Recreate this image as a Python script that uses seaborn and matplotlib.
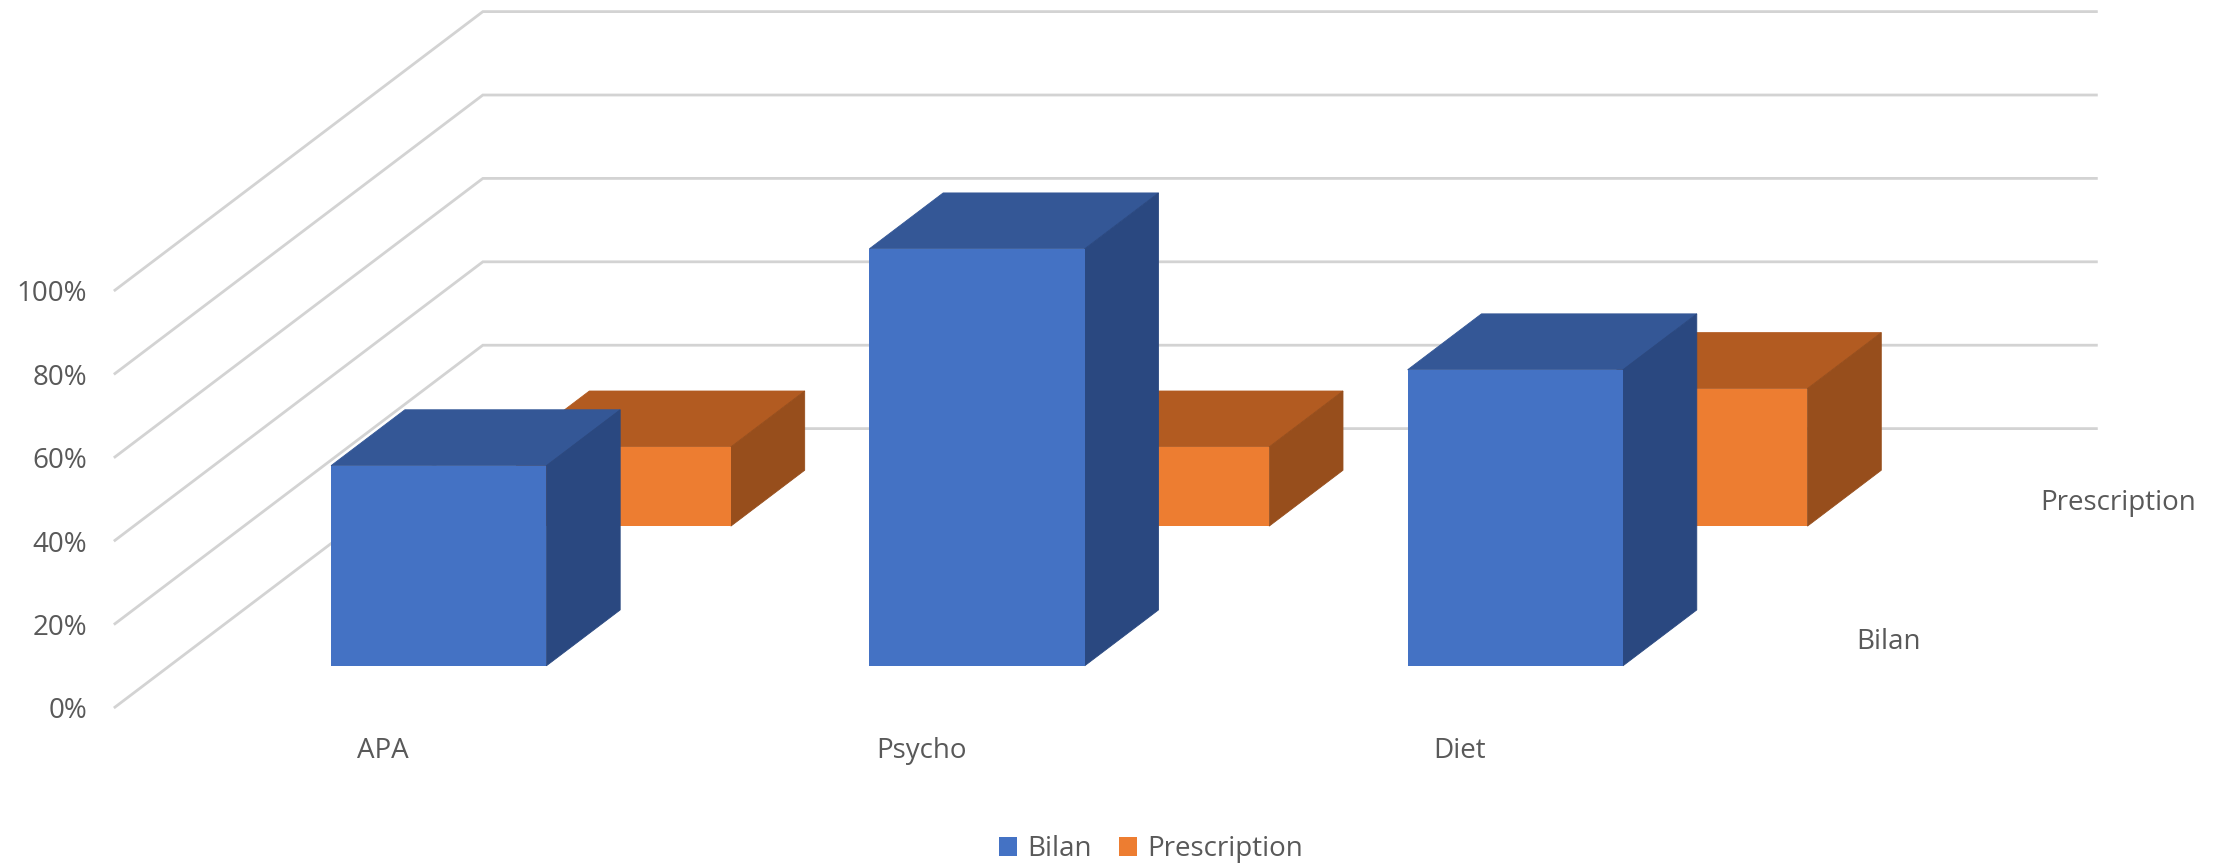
import matplotlib
matplotlib.use("Agg")
import matplotlib.pyplot as plt
from matplotlib.patches import Patch, Polygon
import numpy as np
import seaborn as sns

categories = ["APA", "Psycho", "Diet"]
series_names = ["Bilan", "Prescription"]
bilan = [48, 100, 71]
prescription = [19, 19, 33]
percent_ticks = [0, 20, 40, 60, 80, 100]

WIDTH, HEIGHT, DPI = 2221, 865, 100
TEXT = "#595959"
GRID = "#D3D3D3"
FONT_SIZE = 20
PALETTES = {
    "Bilan": ("#4472C4", "#345796", "#2A4880"),
    "Prescription": ("#ED7D31", "#B25B21", "#974E1C"),
}

# Oblique projection: one full unit of depth moves a point right and up.
SHEAR_X = 0.6855
SHEAR_Y = 67.0
BAR_WIDTH = 0.4
BAR_DEPTH = 0.2
SLOT_DEPTH = 0.5
FRONT_GAP = 0.151


def project(x, depth, value):
    return x + SHEAR_X * depth, value + SHEAR_Y * depth


sns.set_theme(style="white")
plt.rcParams["font.family"] = ["Open Sans", "DejaVu Sans"]

fig = plt.figure(figsize=(WIDTH / DPI, HEIGHT / DPI), dpi=DPI)
ax = fig.add_axes([0, 0, 1, 1])

# Walls: one polyline per percentage gridline, side wall then back wall.
for tick in percent_ticks:
    xs, ys = zip(project(-0.5, 0, tick), project(-0.5, 1, tick), project(2.5, 1, tick))
    ax.plot(xs, ys, color=GRID, lw=2.0, zorder=1, solid_capstyle="butt", solid_joinstyle="miter")


def draw_series(name, values, slot, zorder):
    front, top, side = PALETTES[name]
    depth = FRONT_GAP + slot * SLOT_DEPTH
    base_x, base_y = project(np.arange(len(values), dtype=float), depth, 0.0)
    sns.barplot(
        x=base_x,
        y=np.asarray(values, dtype=float),
        native_scale=True,
        width=BAR_WIDTH,
        color=front,
        saturation=1,
        errorbar=None,
        bottom=base_y,
        linewidth=0,
        zorder=zorder + 0.2,
        ax=ax,
    )
    for i, value in enumerate(values):
        left, right = i - BAR_WIDTH / 2, i + BAR_WIDTH / 2
        near, far = depth, depth + BAR_DEPTH
        top_face = [project(left, near, value), project(right, near, value),
                    project(right, far, value), project(left, far, value)]
        side_face = [project(right, near, 0), project(right, far, 0),
                     project(right, far, value), project(right, near, value)]
        # A hairline edge in the face colour closes the seams between faces.
        ax.add_patch(Polygon(top_face, closed=True, fc=top, ec=top, lw=0.6, zorder=zorder))
        ax.add_patch(Polygon(side_face, closed=True, fc=side, ec=side, lw=0.6, zorder=zorder + 0.1))


draw_series("Prescription", prescription, 1, 2)
draw_series("Bilan", bilan, 0, 3)

# Percentage labels sit just left of the side wall.
for tick in percent_ticks:
    ax.text(-0.5 - 0.05, tick - 0.8, f"{tick}%", ha="right", va="center", fontsize=FONT_SIZE, color=TEXT)

for i, name in enumerate(categories):
    ax.text(i, -10.4, name, ha="center", va="center", fontsize=FONT_SIZE, color=TEXT)

for slot, name in enumerate(series_names):
    x, y = project(2.5 + 0.065, (slot + 0.5) * SLOT_DEPTH, -1.0)
    ax.text(x, y, name, ha="left", va="center", fontsize=FONT_SIZE, color=TEXT)

handles = [Patch(fc=PALETTES[n][0], ec="none") for n in series_names]
ax.legend(
    handles, series_names, loc="center", bbox_to_anchor=(0.5183, 0.018), bbox_transform=fig.transFigure,
    ncol=2, frameon=False, fontsize=FONT_SIZE, labelcolor=TEXT,
    handlelength=0.65, handleheight=0.65, handletextpad=0.36, columnspacing=1.0,
    borderpad=0, borderaxespad=0,
)

# Axis limits place the 0% corner and the category spacing on the canvas.
unit_x, unit_y, origin_x, origin_y = 538.3, 4.17, 383.0, 157.0
ax.set_xlim(-origin_x / unit_x, (WIDTH - origin_x) / unit_x)
ax.set_ylim(-origin_y / unit_y, (HEIGHT - origin_y) / unit_y)
ax.axis("off")

fig.savefig("out.png", dpi=DPI, facecolor="white")
